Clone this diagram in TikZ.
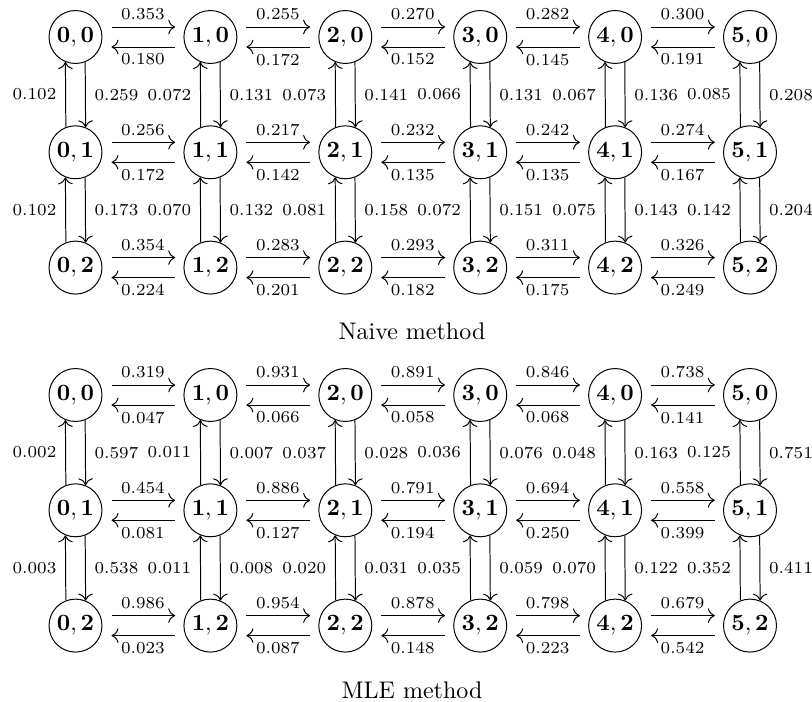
\documentclass[tikz,border=0pt]{standalone}
\usetikzlibrary{arrows.meta}
\tikzset{
  stnode/.style={circle, draw, line width=0.6pt, minimum size=32.2pt, inner sep=0pt},
  arr/.style={-{To[scale=1.45]}, line width=0.6pt},
}
\newcommand{\edgelab}[1]{\scalebox{1.46}{\scriptsize #1}}
\newcommand{\statelab}[2]{\scalebox{1.42}{$\mathbf{#1,#2}$}}
\newcommand{\captext}[1]{\scalebox{1.46}{#1}}
\begin{document}
\begin{tikzpicture}[x=0.608pt,y=-0.608pt]
\useasboundingbox (0,0) rectangle (812,702);
% state nodes
\foreach \g/\yo in {a/0,b/358}{
  \foreach \c in {0,...,5}{
    \foreach \r in {0,1,2}{
      \node[stnode] (\g\c\r) at ({75.5+134.9*\c},{37+115.3*\r+\yo}) {\statelab{\c}{\r}};
    }
  }
}
% horizontal arrows
\foreach \g/\c/\r/\f/\bk in {
 a/0/0/0.353/0.180, a/1/0/0.255/0.172, a/2/0/0.270/0.152, a/3/0/0.282/0.145, a/4/0/0.300/0.191,
 a/0/1/0.256/0.172, a/1/1/0.217/0.142, a/2/1/0.232/0.135, a/3/1/0.242/0.135, a/4/1/0.274/0.167,
 a/0/2/0.354/0.224, a/1/2/0.283/0.201, a/2/2/0.293/0.182, a/3/2/0.311/0.175, a/4/2/0.326/0.249,
 b/0/0/0.319/0.047, b/1/0/0.931/0.066, b/2/0/0.891/0.058, b/3/0/0.846/0.068, b/4/0/0.738/0.141,
 b/0/1/0.454/0.081, b/1/1/0.886/0.127, b/2/1/0.791/0.194, b/3/1/0.694/0.250, b/4/1/0.558/0.399,
 b/0/2/0.986/0.023, b/1/2/0.954/0.087, b/2/2/0.878/0.148, b/3/2/0.798/0.223, b/4/2/0.679/0.542}{
  \pgfmathtruncatemacro{\d}{\c+1}
  \draw[arr, shorten <=5.5pt, shorten >=5pt] ([yshift=6.08pt]\g\c\r.east) -- node[above=0.5pt]{\edgelab{\f}} ([yshift=6.08pt]\g\d\r.west);
  \draw[arr, shorten <=5pt, shorten >=5.5pt] ([yshift=-6.08pt]\g\d\r.west) -- node[below=0.5pt]{\edgelab{\bk}} ([yshift=-6.08pt]\g\c\r.east);
}
% vertical arrows
\foreach \g/\c/\r/\u/\dn in {
 a/0/0/0.102/0.259, a/1/0/0.072/0.131, a/2/0/0.073/0.141, a/3/0/0.066/0.131, a/4/0/0.067/0.136, a/5/0/0.085/0.208,
 a/0/1/0.102/0.173, a/1/1/0.070/0.132, a/2/1/0.081/0.158, a/3/1/0.072/0.151, a/4/1/0.075/0.143, a/5/1/0.142/0.204,
 b/0/0/0.002/0.597, b/1/0/0.011/0.007, b/2/0/0.037/0.028, b/3/0/0.036/0.076, b/4/0/0.048/0.163, b/5/0/0.125/0.751,
 b/0/1/0.003/0.538, b/1/1/0.011/0.008, b/2/1/0.020/0.031, b/3/1/0.035/0.059, b/4/1/0.070/0.122, b/5/1/0.352/0.411}{
  \pgfmathtruncatemacro{\s}{\r+1}
  \draw[arr] (\g\c\s.111.7) -- node[left=2pt]{\edgelab{\u}} (\g\c\r.248.3);
  \draw[arr] (\g\c\r.291.7) -- node[right=2pt]{\edgelab{\dn}} (\g\c\s.68.3);
}
\node (cap1) at (412,331) {\captext{Naive method}};
\node (cap2) at (412,690) {\captext{MLE method}};
\end{tikzpicture}
\end{document}
